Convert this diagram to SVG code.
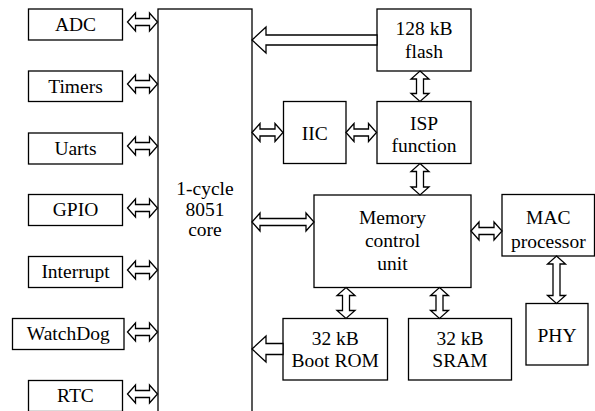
<svg xmlns="http://www.w3.org/2000/svg" xmlns:xlink="http://www.w3.org/1999/xlink" width="595" height="411" viewBox="0 0 595 411">
<style>
.box{fill:#fff;stroke:#000;stroke-width:1.3}
.arr{fill:#fff;stroke:#000;stroke-width:1.3;stroke-linejoin:miter}
.t{font-family:"Times New Roman","Liberation Serif",Times,"Nimbus Roman","FreeSerif","DejaVu Serif",serif;font-size:19.5px;fill:#000;text-anchor:middle}
</style>
<defs>
<path id="dl" class="arr" d="M127.5,0 L135.5,-9 L135.5,-3.5 L149.5,-3.5 L149.5,-9 L157.5,0 L149.5,9 L149.5,3.5 L135.5,3.5 L135.5,9 Z"/>
</defs>
<rect width="595" height="411" fill="#fff"/>
<g id="core"><rect class="box" x="158" y="9" width="94" height="410"/><text class="t" x="205" y="195">1-cycle</text><text class="t" x="205" y="216">8051</text><text class="t" x="205" y="236">core</text></g>
<g id="adc"><rect class="box" x="28.5" y="9" width="94" height="31"/><text class="t" x="75.5" y="31">ADC</text></g>
<g id="timers"><rect class="box" x="28.5" y="71" width="94" height="30.5"/><text class="t" x="75.5" y="93">Timers</text></g>
<g id="uarts"><rect class="box" x="28.5" y="133" width="94" height="31"/><text class="t" x="75.5" y="154.5">Uarts</text></g>
<g id="gpio"><rect class="box" x="28.5" y="194.5" width="94" height="31"/><text class="t" x="75.5" y="216">GPIO</text></g>
<g id="interrupt"><rect class="box" x="28.5" y="256.5" width="94" height="31"/><text class="t" x="75.5" y="278">Interrupt</text></g>
<g id="watchdog"><rect class="box" x="12.5" y="318.5" width="111.5" height="31"/><text class="t" x="68.3" y="340">WatchDog</text></g>
<g id="rtc"><rect class="box" x="28.5" y="380.5" width="94" height="31"/><text class="t" x="75.5" y="402">RTC</text></g>
<g id="flash"><rect class="box" x="377" y="9" width="94" height="62"/><text class="t" x="424" y="35">128 kB</text><text class="t" x="424" y="58">flash</text></g>
<g id="iic"><rect class="box" x="283.5" y="101.5" width="62.5" height="62"/><text class="t" x="314.7" y="139.5">IIC</text></g>
<g id="isp"><rect class="box" x="377" y="101.5" width="94" height="62"/><text class="t" x="424" y="130">ISP</text><text class="t" x="424" y="152">function</text></g>
<g id="memory"><rect class="box" x="314" y="195" width="157" height="92.5"/><text class="t" x="392.5" y="224">Memory</text><text class="t" x="392.5" y="247">control</text><text class="t" x="392.5" y="270">unit</text></g>
<g id="mac"><rect class="box" x="502" y="194.5" width="92.5" height="61.5"/><text class="t" x="548.3" y="224">MAC</text><text class="t" x="548.3" y="248">processor</text></g>
<g id="phy"><rect class="box" x="526" y="303.5" width="62" height="61.5"/><text class="t" x="557" y="341.5">PHY</text></g>
<g id="bootrom"><rect class="box" x="283" y="318.5" width="104.5" height="61.5"/><text class="t" x="335.2" y="345">32 kB</text><text class="t" x="335.2" y="367">Boot ROM</text></g>
<g id="sram"><rect class="box" x="408.5" y="318.5" width="103" height="61.5"/><text class="t" x="460" y="345">32 kB</text><text class="t" x="460" y="367">SRAM</text></g>
<g id="connectors">
<use xlink:href="#dl" y="22"/>
<use xlink:href="#dl" y="84"/>
<use xlink:href="#dl" y="146"/>
<use xlink:href="#dl" y="208"/>
<use xlink:href="#dl" y="270"/>
<use xlink:href="#dl" y="332"/>
<use xlink:href="#dl" y="394"/>
<path class="arr" d="M252,40 L266,27 L266,35 L377,35 L377,45 L266,45 L266,53 Z"/>
<path class="arr" d="M252,349 L266,336 L266,343.5 L283,343.5 L283,354.5 L266,354.5 L266,362 Z"/>
<path class="arr" d="M252,132.5 L260,123.5 L260,129 L275,129 L275,123.5 L283,132.5 L275,141.5 L275,136 L260,136 L260,141.5 Z"/>
<path class="arr" d="M346,132.5 L354,123.5 L354,129 L368.5,129 L368.5,123.5 L376.5,132.5 L368.5,141.5 L368.5,136 L354,136 L354,141.5 Z"/>
<path class="arr" d="M252,222 L260,213 L260,218.5 L306,218.5 L306,213 L314,222 L306,231 L306,225.5 L260,225.5 L260,231 Z"/>
<path class="arr" d="M471,231 L479,222 L479,227.5 L494,227.5 L494,222 L502,231 L494,240 L494,234.5 L479,234.5 L479,240 Z"/>
<path class="arr" d="M420,71 L429,79 L423.5,79 L423.5,93.5 L429,93.5 L420,101.5 L411,93.5 L416.5,93.5 L416.5,79 L411,79 Z"/>
<path class="arr" d="M420,163.5 L429,171.5 L423.5,171.5 L423.5,187 L429,187 L420,195 L411,187 L416.5,187 L416.5,171.5 L411,171.5 Z"/>
<path class="arr" d="M346,287.5 L355,295.5 L349.5,295.5 L349.5,310.5 L355,310.5 L346,318.5 L337,310.5 L342.5,310.5 L342.5,295.5 L337,295.5 Z"/>
<path class="arr" d="M439.5,287.5 L448.5,295.5 L443,295.5 L443,310.5 L448.5,310.5 L439.5,318.5 L430.5,310.5 L436,310.5 L436,295.5 L430.5,295.5 Z"/>
<path class="arr" d="M556.5,256 L565.5,264 L560,264 L560,295.5 L565.5,295.5 L556.5,303.5 L547.5,295.5 L553,295.5 L553,264 L547.5,264 Z"/>
</g>
</svg>
